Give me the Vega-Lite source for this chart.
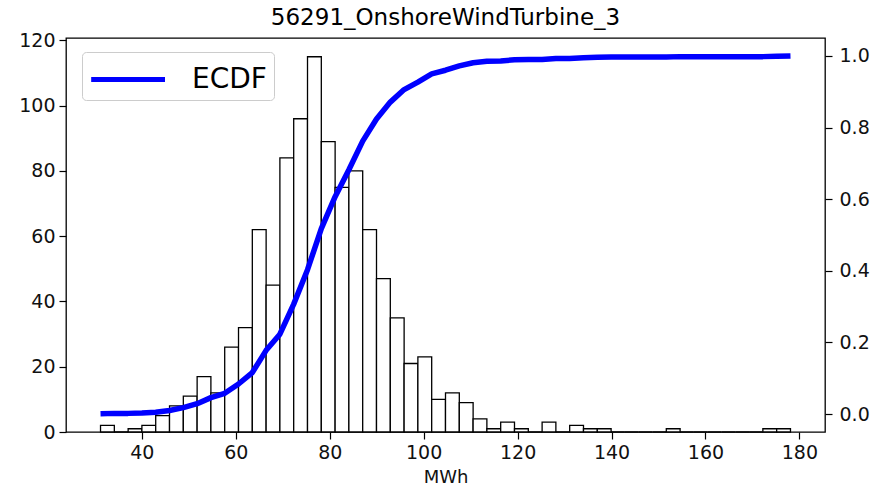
{
  "$schema": "https://vega.github.io/schema/vega-lite/v6.json",
  "width": 759,
  "height": 394,
  "autosize": {"type": "none"},
  "padding": {"left": 66, "top": 38, "right": 51, "bottom": 53},
  "background": "white",
  "title": {"text": "56291_OnshoreWindTurbine_3", "fontSize": 23, "font": "DejaVu Sans", "fontWeight": "normal", "color": "black", "offset": 1},
  "datasets": {
    "hist": [
      {"bin_start": 31.20, "bin_end": 34.14, "count": 2},
      {"bin_start": 34.14, "bin_end": 37.08, "count": 0},
      {"bin_start": 37.08, "bin_end": 40.01, "count": 1},
      {"bin_start": 40.01, "bin_end": 42.95, "count": 2},
      {"bin_start": 42.95, "bin_end": 45.89, "count": 5},
      {"bin_start": 45.89, "bin_end": 48.83, "count": 8},
      {"bin_start": 48.83, "bin_end": 51.77, "count": 11},
      {"bin_start": 51.77, "bin_end": 54.70, "count": 17},
      {"bin_start": 54.70, "bin_end": 57.64, "count": 12},
      {"bin_start": 57.64, "bin_end": 60.58, "count": 26},
      {"bin_start": 60.58, "bin_end": 63.52, "count": 32},
      {"bin_start": 63.52, "bin_end": 66.46, "count": 62},
      {"bin_start": 66.46, "bin_end": 69.39, "count": 45},
      {"bin_start": 69.39, "bin_end": 72.33, "count": 84},
      {"bin_start": 72.33, "bin_end": 75.27, "count": 96},
      {"bin_start": 75.27, "bin_end": 78.21, "count": 115},
      {"bin_start": 78.21, "bin_end": 81.15, "count": 89},
      {"bin_start": 81.15, "bin_end": 84.08, "count": 75},
      {"bin_start": 84.08, "bin_end": 87.02, "count": 80},
      {"bin_start": 87.02, "bin_end": 89.96, "count": 62},
      {"bin_start": 89.96, "bin_end": 92.90, "count": 47},
      {"bin_start": 92.90, "bin_end": 95.84, "count": 35},
      {"bin_start": 95.84, "bin_end": 98.77, "count": 21},
      {"bin_start": 98.77, "bin_end": 101.71, "count": 23},
      {"bin_start": 101.71, "bin_end": 104.65, "count": 10},
      {"bin_start": 104.65, "bin_end": 107.59, "count": 12},
      {"bin_start": 107.59, "bin_end": 110.53, "count": 9},
      {"bin_start": 110.53, "bin_end": 113.46, "count": 4},
      {"bin_start": 113.46, "bin_end": 116.40, "count": 1},
      {"bin_start": 116.40, "bin_end": 119.34, "count": 3},
      {"bin_start": 119.34, "bin_end": 122.28, "count": 1},
      {"bin_start": 122.28, "bin_end": 125.22, "count": 0},
      {"bin_start": 125.22, "bin_end": 128.15, "count": 3},
      {"bin_start": 128.15, "bin_end": 131.09, "count": 0},
      {"bin_start": 131.09, "bin_end": 134.03, "count": 2},
      {"bin_start": 134.03, "bin_end": 136.97, "count": 1},
      {"bin_start": 136.97, "bin_end": 139.91, "count": 1},
      {"bin_start": 139.91, "bin_end": 142.84, "count": 0},
      {"bin_start": 142.84, "bin_end": 145.78, "count": 0},
      {"bin_start": 145.78, "bin_end": 148.72, "count": 0},
      {"bin_start": 148.72, "bin_end": 151.66, "count": 0},
      {"bin_start": 151.66, "bin_end": 154.60, "count": 1},
      {"bin_start": 154.60, "bin_end": 157.53, "count": 0},
      {"bin_start": 157.53, "bin_end": 160.47, "count": 0},
      {"bin_start": 160.47, "bin_end": 163.41, "count": 0},
      {"bin_start": 163.41, "bin_end": 166.35, "count": 0},
      {"bin_start": 166.35, "bin_end": 169.29, "count": 0},
      {"bin_start": 169.29, "bin_end": 172.22, "count": 0},
      {"bin_start": 172.22, "bin_end": 175.16, "count": 1},
      {"bin_start": 175.16, "bin_end": 178.10, "count": 1}
    ],
    "ecdf": [
      {"mwh": 31.20, "ecdf": 0.001},
      {"mwh": 34.14, "ecdf": 0.002},
      {"mwh": 37.08, "ecdf": 0.002},
      {"mwh": 40.01, "ecdf": 0.003},
      {"mwh": 42.95, "ecdf": 0.005},
      {"mwh": 45.89, "ecdf": 0.010},
      {"mwh": 48.83, "ecdf": 0.018},
      {"mwh": 51.77, "ecdf": 0.029},
      {"mwh": 54.70, "ecdf": 0.046},
      {"mwh": 57.64, "ecdf": 0.058},
      {"mwh": 60.58, "ecdf": 0.084},
      {"mwh": 63.52, "ecdf": 0.116},
      {"mwh": 66.46, "ecdf": 0.178},
      {"mwh": 69.39, "ecdf": 0.223},
      {"mwh": 72.33, "ecdf": 0.307},
      {"mwh": 75.27, "ecdf": 0.403},
      {"mwh": 78.21, "ecdf": 0.518},
      {"mwh": 81.15, "ecdf": 0.607},
      {"mwh": 84.08, "ecdf": 0.682},
      {"mwh": 87.02, "ecdf": 0.762},
      {"mwh": 89.96, "ecdf": 0.824},
      {"mwh": 92.90, "ecdf": 0.871},
      {"mwh": 95.84, "ecdf": 0.906},
      {"mwh": 98.77, "ecdf": 0.927},
      {"mwh": 101.71, "ecdf": 0.950},
      {"mwh": 104.65, "ecdf": 0.960},
      {"mwh": 107.59, "ecdf": 0.972},
      {"mwh": 110.53, "ecdf": 0.981},
      {"mwh": 113.46, "ecdf": 0.985},
      {"mwh": 116.40, "ecdf": 0.986},
      {"mwh": 119.34, "ecdf": 0.989},
      {"mwh": 122.28, "ecdf": 0.990},
      {"mwh": 125.22, "ecdf": 0.990},
      {"mwh": 128.15, "ecdf": 0.993},
      {"mwh": 131.09, "ecdf": 0.993},
      {"mwh": 134.03, "ecdf": 0.995},
      {"mwh": 136.97, "ecdf": 0.996},
      {"mwh": 139.91, "ecdf": 0.997},
      {"mwh": 151.66, "ecdf": 0.997},
      {"mwh": 154.60, "ecdf": 0.998},
      {"mwh": 172.22, "ecdf": 0.998},
      {"mwh": 175.16, "ecdf": 0.999},
      {"mwh": 178.10, "ecdf": 1.000}
    ]
  },
  "layer": [
    {
      "data": {"name": "hist"},
      "mark": {"type": "rect", "fill": "white", "stroke": "black", "strokeWidth": 1.3},
      "encoding": {
        "x": {"field": "bin_start", "type": "quantitative", "scale": {"domain": [23.85, 185.45], "nice": false, "zero": false},
              "axis": {"values": [40, 60, 80, 100, 120, 140, 160, 180], "title": "MWh", "titlePadding": 6}},
        "x2": {"field": "bin_end"},
        "y": {"field": "count", "type": "quantitative", "scale": {"domain": [0, 120.75], "nice": false},
              "axis": {"values": [0, 20, 40, 60, 80, 100, 120], "title": null}},
        "y2": {"datum": 0}
      }
    },
    {
      "data": {"name": "ecdf"},
      "mark": {"type": "line", "strokeWidth": 5.5, "strokeJoin": "round"},
      "encoding": {
        "x": {"field": "mwh", "type": "quantitative"},
        "y": {"field": "ecdf", "type": "quantitative", "scale": {"domain": [-0.05, 1.05], "nice": false, "zero": false},
              "axis": {"orient": "right", "values": [0, 0.2, 0.4, 0.6, 0.8, 1.0], "format": ".1f", "title": null, "labelPadding": 7}},
        "color": {"datum": "ECDF", "scale": {"range": ["#0000ff"]},
                  "legend": {"orient": "none", "legendX": 16, "legendY": 14, "title": null,
                             "fillColor": "rgba(255,255,255,0.8)", "strokeColor": "#cccccc", "cornerRadius": 4,
                             "padding": 6.5, "symbolType": "M-0.99,0H3.0", "symbolSize": 1369, "symbolStrokeWidth": 5,
                             "labelFontSize": 28, "labelFont": "DejaVu Sans", "labelOffset": 61.5, "labelColor": "black"}}
      }
    }
  ],
  "resolve": {"scale": {"y": "independent"}},
  "config": {
    "view": {"stroke": "black", "strokeWidth": 1.3},
    "axis": {
      "domain": false, "grid": false, "ticks": true, "tickColor": "black", "tickSize": 7, "tickWidth": 1.2,
      "labelFont": "DejaVu Sans", "labelFontSize": 19, "labelColor": "#111", "labelPadding": 4,
      "titleFont": "DejaVu Sans", "titleFontSize": 18, "titleFontWeight": "normal", "titleColor": "#111"
    }
  }
}
